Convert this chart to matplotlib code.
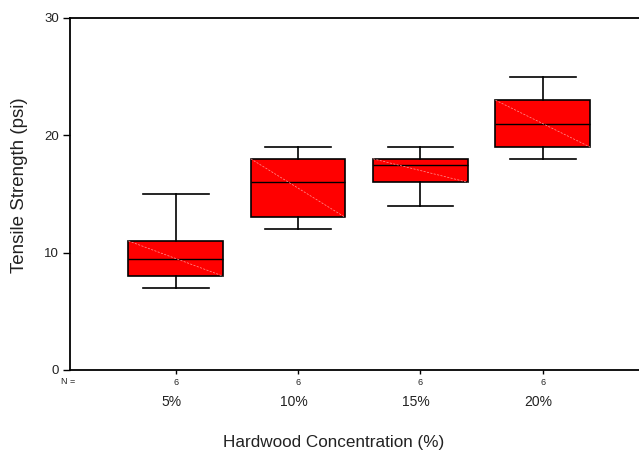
import matplotlib
matplotlib.use("Agg")
import matplotlib.pyplot as plt
from matplotlib.transforms import blended_transform_factory

plt.rcParams['font.family'] = ['Liberation Sans', 'DejaVu Sans']

categories = ["5%", "10%", "15%", "20%"]
counts = [6, 6, 6, 6]
whislo = [7, 12, 14, 18]
q1 = [8, 13, 16, 19]
med = [9.5, 16, 17.5, 21]
q3 = [11, 18, 18, 23]
whishi = [15, 19, 19, 25]

fig = plt.figure(figsize=(6.39, 4.50), dpi=100)
ax = fig.add_axes([70/639, 1-370/450, 1-70/639, (370-18)/450])

stats = []
for i in range(len(categories)):
    stats.append(dict(label=categories[i], whislo=whislo[i], q1=q1[i], med=med[i],
                      q3=q3[i], whishi=whishi[i], fliers=[]))

positions = list(range(1, len(categories)+1))
width = 0.774
ax.bxp(stats, positions=positions, widths=width, patch_artist=True,
       showfliers=False, capwidths=0.537,
       boxprops=dict(facecolor='#ff0000', edgecolor='black', linewidth=1.2),
       medianprops=dict(color='black', linewidth=1.0),
       whiskerprops=dict(color='black', linewidth=1.2),
       capprops=dict(color='black', linewidth=1.2))

# faint diagonal inside each box
for p, a, b in zip(positions, q3, q1):
    ax.plot([p - width/2, p + width/2], [a, b], color='#ff9a9a', lw=0.5,
            ls=(0, (3, 2)), zorder=3)

ax.set_xlim(0.1357, 4.787)
ax.set_ylim(0, 30)
ax.set_yticks([0, 10, 20, 30])
ax.set_xticks(positions)
ax.set_xticklabels([str(c) for c in counts], fontsize=6.5)
ax.tick_params(axis='x', length=3, width=1, pad=2.5, colors='black', labelcolor='#222222')
ax.tick_params(axis='y', length=5, width=1, labelsize=9.5, pad=3, labelcolor='#222222')
for s in ['left', 'bottom', 'top']:
    ax.spines[s].set_linewidth(1.3)
ax.spines['right'].set_visible(False)

trans = blended_transform_factory(ax.transData, ax.transAxes)
for p, c in zip(positions, categories):
    ax.text(p - 0.035, -0.091, c, transform=trans, ha='center', va='center',
            fontsize=10, color='#222222')
ax.text(-0.003, -0.033, "N =", transform=ax.transAxes, ha='center', va='center',
        fontsize=6.5, color='#222222')

fig.text(334/639, 1-443/450, "Hardwood Concentration (%)", ha='center', va='center',
         fontsize=12.3, color='#222222')
fig.text(20/639, 1-185/450, "Tensile Strength (psi)", ha='center', va='center',
         rotation=90, fontsize=13.5, color='#222222')

fig.savefig("out.png", dpi=100)
